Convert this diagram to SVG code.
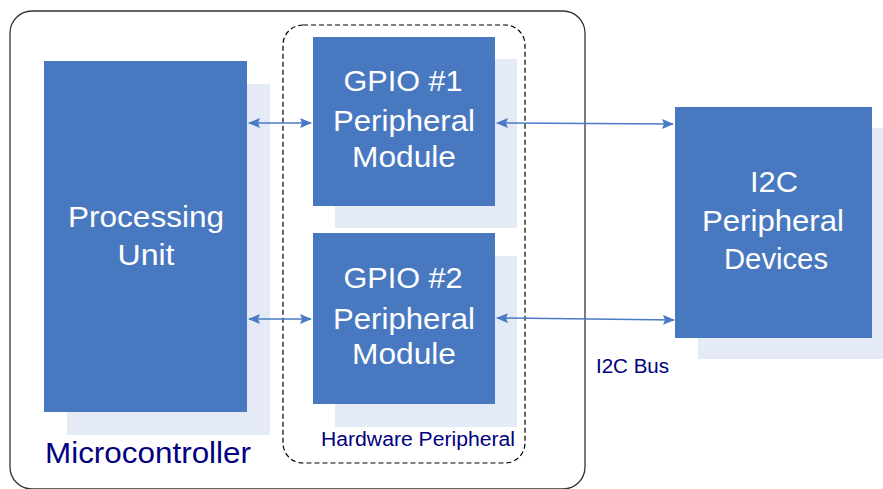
<svg xmlns="http://www.w3.org/2000/svg" width="883" height="489" viewBox="0 0 883 489">
<defs>
<style>
.box{fill:#4878bf}
.shadow{fill:#e5ebf6}
.wt{fill:#ffffff;font-family:"Liberation Sans",Arial,sans-serif;font-size:30px;text-anchor:middle}
.lbl{fill:#000080;font-family:"Liberation Sans",Arial,sans-serif}
.conn{stroke:#4a7bc4;stroke-width:1.5;fill:none;marker-start:url(#ah);marker-end:url(#ah)}
</style>
<marker id="ah" viewBox="0 0 12 10" refX="11" refY="5" markerWidth="12" markerHeight="10" markerUnits="userSpaceOnUse" orient="auto-start-reverse">
<path d="M0,0 L12,5 L0,10 L2,5 Z" fill="#4a7bc4"/>
</marker>
</defs>
<rect width="883" height="489" fill="#ffffff"/>
<g id="microcontroller">
<rect x="10" y="11" width="575" height="478" rx="22" fill="none" stroke="#333333" stroke-width="1.3"/>
<text class="lbl" x="45" y="463" font-size="30" textLength="206" lengthAdjust="spacingAndGlyphs">Microcontroller</text>
</g>
<g id="hardware-peripheral">
<rect x="283" y="25" width="242" height="438" rx="20" fill="none" stroke="#000000" stroke-width="1.2" stroke-dasharray="5,3"/>
<text class="lbl" x="321" y="446" font-size="20" textLength="194" lengthAdjust="spacingAndGlyphs">Hardware Peripheral</text>
</g>
<g id="processing-unit">
<rect class="shadow" x="67" y="84" width="203" height="351"/>
<rect class="box" x="44" y="61" width="203" height="351"/>
<text class="wt" x="146" y="227" textLength="156" lengthAdjust="spacingAndGlyphs">Processing</text>
<text class="wt" x="146" y="265" textLength="57" lengthAdjust="spacingAndGlyphs">Unit</text>
</g>
<g id="gpio1">
<rect class="shadow" x="335" y="59" width="182" height="169"/>
<rect class="box" x="313" y="37" width="182" height="169"/>
<text class="wt" x="403" y="91" textLength="119" lengthAdjust="spacingAndGlyphs">GPIO #1</text>
<text class="wt" x="404" y="131" textLength="142" lengthAdjust="spacingAndGlyphs">Peripheral</text>
<text class="wt" x="404" y="167" textLength="104" lengthAdjust="spacingAndGlyphs">Module</text>
</g>
<g id="gpio2">
<rect class="shadow" x="335" y="256" width="182" height="171"/>
<rect class="box" x="313" y="233" width="182" height="171"/>
<text class="wt" x="403" y="288" textLength="119" lengthAdjust="spacingAndGlyphs">GPIO #2</text>
<text class="wt" x="404" y="329" textLength="142" lengthAdjust="spacingAndGlyphs">Peripheral</text>
<text class="wt" x="404" y="364" textLength="104" lengthAdjust="spacingAndGlyphs">Module</text>
</g>
<g id="i2c-devices">
<rect class="shadow" x="698" y="128" width="185" height="231"/>
<rect class="box" x="675" y="107" width="197" height="231"/>
<text class="wt" x="774" y="192" textLength="48" lengthAdjust="spacingAndGlyphs">I2C</text>
<text class="wt" x="773" y="231" textLength="142" lengthAdjust="spacingAndGlyphs">Peripheral</text>
<text class="wt" x="776" y="269" textLength="104" lengthAdjust="spacingAndGlyphs">Devices</text>
</g>
<g id="i2c-bus-label">
<text class="lbl" x="596" y="373" font-size="20" textLength="73" lengthAdjust="spacingAndGlyphs">I2C Bus</text>
</g>
<g id="connectors">
<line class="conn" x1="249" y1="123" x2="311" y2="123"/>
<line class="conn" x1="249" y1="319" x2="311" y2="319"/>
<line class="conn" x1="497" y1="123" x2="673" y2="124"/>
<line class="conn" x1="497" y1="318" x2="674" y2="320"/>
</g>
</svg>
